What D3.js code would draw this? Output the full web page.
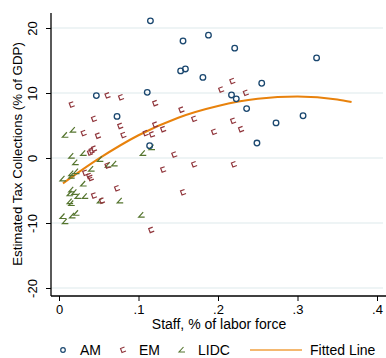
<!DOCTYPE html>
<html><head><meta charset="utf-8">
<script src="https://cdn.jsdelivr.net/npm/d3@7"></script>
<style>body{margin:0;background:#fff}svg{display:block}text{font-family:"Liberation Sans",Arial,Helvetica,sans-serif}</style>
</head><body><svg id="c" width="386" height="358"></svg>
<script>
const amData = [[0.115,21.1],[0.156,18.0],[0.153,13.4],[0.159,13.7],[0.047,9.6],[0.111,10.1],[0.073,6.4],[0.114,1.9],[0.188,18.9],[0.221,16.9],[0.324,15.4],[0.181,12.4],[0.255,11.5],[0.217,9.7],[0.223,9.1],[0.236,7.6],[0.307,6.5],[0.273,5.4],[0.249,2.3]];
const emData = [[0.016,8.2],[0.061,9.6],[0.078,9.3],[0.121,8.4],[0.044,6.0],[0.031,3.8],[0.049,3.4],[0.077,4.9],[0.081,3.5],[0.109,3.8],[0.117,3.6],[0.121,5.1],[0.131,4.4],[0.154,7.4],[0.170,6.0],[0.039,0.8],[0.041,1.1],[0.044,1.4],[0.145,0.5],[0.170,-1.0],[0.061,-1.2],[0.131,-1.8],[0.033,-2.3],[0.038,-2.8],[0.040,-3.1],[0.073,-4.7],[0.044,-5.8],[0.054,-6.6],[0.116,-11.1],[0.156,-5.3],[0.218,11.8],[0.204,10.5],[0.235,10.0],[0.219,5.7],[0.195,4.0],[0.229,4.4],[0.220,-1.0]];
const lidcData = [[0.008,3.5],[0.018,4.3],[0.016,0.3],[0.031,0.7],[0.021,-0.7],[0.052,-0.2],[0.106,0.7],[0.117,1.6],[0.062,-1.1],[0.070,-0.9],[0.041,-1.7],[0.022,-2.1],[0.016,-2.4],[0.005,-3.2],[0.016,-2.8],[0.031,-4.0],[0.016,-4.9],[0.020,-5.3],[0.014,-5.5],[0.024,-5.9],[0.033,-5.9],[0.016,-7.0],[0.014,-6.7],[0.052,-6.6],[0.077,-6.6],[0.005,-9.0],[0.017,-8.9],[0.022,-8.5],[0.104,-8.8],[0.008,-9.8]];
const fitX = [0.005,0.05,0.1,0.15,0.2,0.25,0.3,0.35,0.368];
const fitY = [-3.9,-0.1,3.5,6.2,8.0,9.1,9.45,9.0,8.6];
const xTicks = [0,0.1,0.2,0.3,0.4];
const xTickLabels = ["0",".1",".2",".3",".4"];
const yTicks = [-20,-10,0,10,20];
const yTickLabels = ["-20","-10","0","10","20"];
const legendLabels = ["AM","EM","LIDC","Fitted Line"];

const svg = d3.select("#c");
const x = d3.scaleLinear().domain([0,0.4]).range([59,377]);
const y = d3.scaleLinear().domain([-20,20]).range([288,28]);
const axL = 51, axB = 296, axT = 13, axR = 386;
const cAM="#1a476f", cEM="#90353b", cLI="#55752f", cFit="#e8820c";

svg.append("g").selectAll("line").data(yTicks).join("line")
  .attr("x1",axL).attr("x2",383).attr("y1",d=>y(d)).attr("y2",d=>y(d))
  .attr("stroke","#e9f1f2").attr("stroke-width",1.5);

const yAxis = d3.axisLeft(y).tickValues(yTicks).tickSize(5).tickFormat((d,i)=>yTickLabels[i]);
const gy = svg.append("g").attr("transform",`translate(${axL},0)`).call(yAxis);
gy.select(".domain").remove();
gy.selectAll(".tick line").attr("stroke","#000");
gy.selectAll(".tick text").attr("font-size",13).attr("fill","#000")
  .attr("text-anchor","middle").attr("x",null).attr("y",null).attr("dy","0")
  .attr("transform","translate(-14,0) rotate(-90)");
svg.append("line").attr("x1",axL).attr("x2",axL).attr("y1",axT).attr("y2",axB).attr("stroke","#000").attr("stroke-width",1.3);

const xAxis = d3.axisBottom(x).tickValues(xTicks).tickSize(5).tickFormat((d,i)=>xTickLabels[i]);
const gx = svg.append("g").attr("transform",`translate(0,${axB})`).call(xAxis);
gx.select(".domain").remove();
gx.selectAll(".tick line").attr("stroke","#000");
gx.selectAll(".tick text").attr("font-size",13).attr("fill","#000").attr("y",9).attr("dy","0.71em");
svg.append("line").attr("x1",axL).attr("x2",axR).attr("y1",axB).attr("y2",axB).attr("stroke","#000").attr("stroke-width",1.3);

svg.append("text").attr("x",219).attr("y",329).attr("text-anchor","middle").attr("font-size",14).text("Staff, % of labor force");
svg.append("text").attr("transform","translate(22,154) rotate(-90)").attr("text-anchor","middle").attr("font-size",13.3).text("Estimated Tax Collections (% of GDP)");

const emPath = "M1.5,-3 L-2.5,-1.5 L-1,2.5 L3,1";
const liPath = "M1.5,-3 L-3,2 L3,2";

const fitPts = fitX.map((v,i)=>[v,fitY[i]]);
svg.append("path").datum(fitPts)
  .attr("d", d3.line().x(d=>x(d[0])).y(d=>y(d[1])).curve(d3.curveMonotoneX))
  .attr("fill","none").attr("stroke",cFit).attr("stroke-width",2);

svg.append("g").selectAll("path").data(lidcData).join("path")
  .attr("transform",d=>`translate(${x(d[0])},${y(d[1])})`).attr("d",liPath)
  .attr("fill","none").attr("stroke",cLI).attr("stroke-width",1.2);
svg.append("g").selectAll("path").data(emData).join("path")
  .attr("transform",d=>`translate(${x(d[0])},${y(d[1])})`).attr("d",emPath)
  .attr("fill","none").attr("stroke",cEM).attr("stroke-width",1.2);
svg.append("g").selectAll("circle").data(amData).join("circle")
  .attr("cx",d=>x(d[0])).attr("cy",d=>y(d[1])).attr("r",2.8)
  .attr("fill","none").attr("stroke",cAM).attr("stroke-width",1.3);

const ly = 350;
const lg = svg.append("g");
lg.append("circle").attr("cx",63).attr("cy",ly).attr("r",2.3).attr("fill","none").attr("stroke",cAM).attr("stroke-width",1.2);
lg.append("path").attr("transform",`translate(123,${ly})`).attr("d",emPath).attr("fill","none").attr("stroke",cEM).attr("stroke-width",1.1);
lg.append("path").attr("transform",`translate(182,${ly})`).attr("d",liPath).attr("fill","none").attr("stroke",cLI).attr("stroke-width",1.1);
lg.append("line").attr("x1",250).attr("x2",302).attr("y1",ly).attr("y2",ly).attr("stroke","#f0a040").attr("stroke-width",1.6);
const lx = [80,139,198,310];
lg.selectAll("text").data(legendLabels).join("text")
  .attr("x",(d,i)=>lx[i]).attr("y",ly+4.5).attr("font-size",14).text(d=>d);
</script></body></html>
